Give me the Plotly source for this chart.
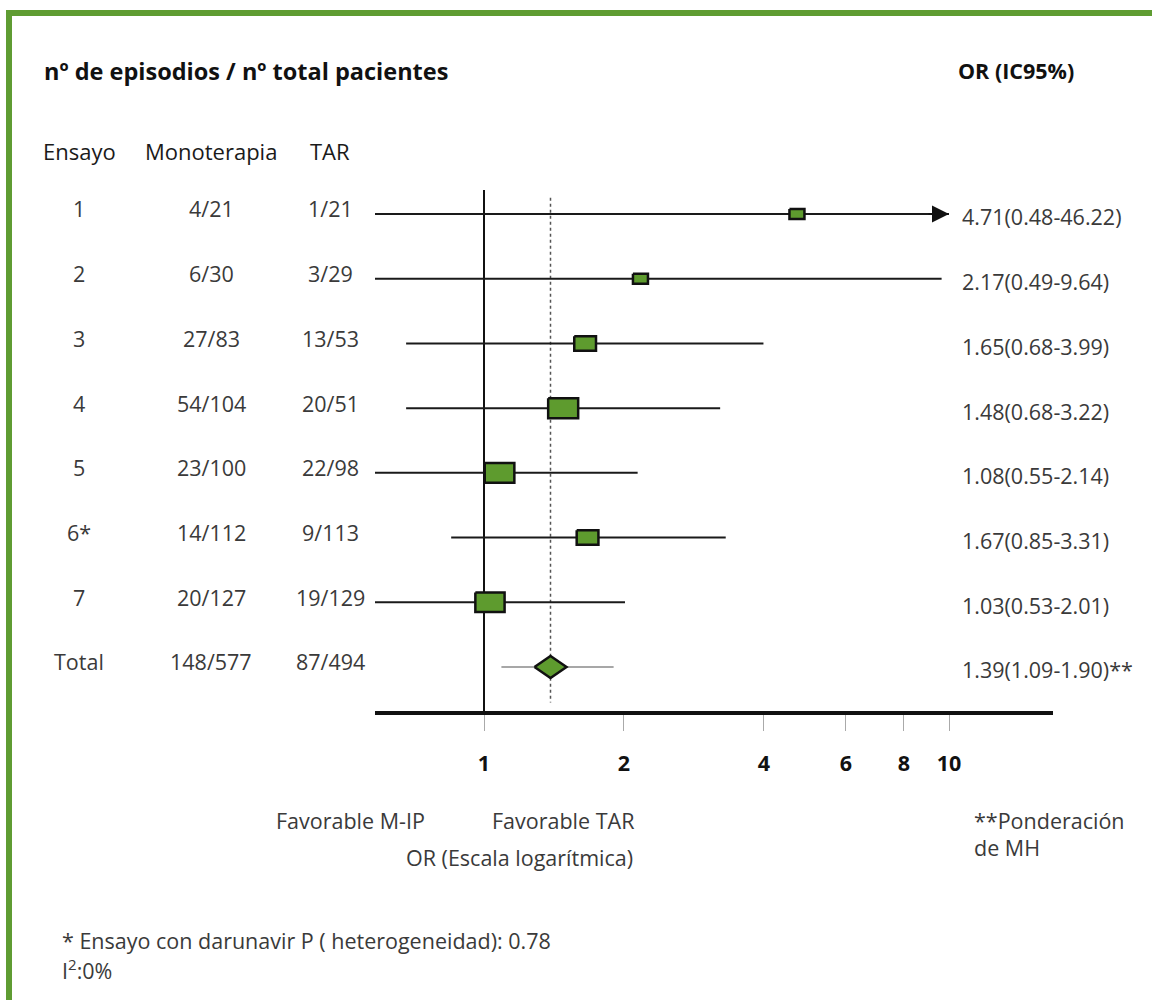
import math
import plotly.graph_objects as go

# ---------------- data ----------------
ensayos = ["1", "2", "3", "4", "5", "6*", "7", "Total"]
monoterapia = ["4/21", "6/30", "27/83", "54/104", "23/100", "14/112", "20/127", "148/577"]
tar = ["1/21", "3/29", "13/53", "20/51", "22/98", "9/113", "19/129", "87/494"]
or_est = [4.71, 2.17, 1.65, 1.48, 1.08, 1.67, 1.03]
ci_low = [0.48, 0.49, 0.68, 0.68, 0.55, 0.85, 0.53]
ci_high = [46.22, 9.64, 3.99, 3.22, 2.14, 3.31, 2.01]
weights = [1.0, 1.0, 2.1, 4.0, 3.9, 2.1, 3.8]   # relative study weights (box area)
total_or = 1.39
total_low = 1.09
total_high = 1.90
or_labels = ["4.71(0.48-46.22)", "2.17(0.49-9.64)", "1.65(0.68-3.99)", "1.48(0.68-3.22)",
             "1.08(0.55-2.14)", "1.67(0.85-3.31)", "1.03(0.53-2.01)", "1.39(1.09-1.90)**"]
tick_vals = [1, 2, 4, 6, 8, 10]
tick_text = ["1", "2", "4", "6", "8", "10"]

# ---------------- layout constants (pixels) ----------------
W, H = 1152, 1000
AX_L, AX_R = 375, 1053          # plot area horizontal extent
ONE_PX = 484                     # where OR = 1 sits
PX_DEC = 465                     # pixels per decade
PLOT_TOP, PLOT_BOT = 190, 711
ROW0_PX, ROW_PX = 214, 64.71

xr = [(AX_L - ONE_PX) / PX_DEC, (AX_R - ONE_PX) / PX_DEC]
yr = [(PLOT_BOT - ROW0_PX) / ROW_PX, (PLOT_TOP - ROW0_PX) / ROW_PX]

FONT = "Open Sans"
TXT = "#3a3a3a"
GREEN = "#5e9b2e"
FRAME = "#5f9c32"
BODY = 21.5

def px(x):
    return x / W

def py(y):
    return 1 - y / H

fig = go.Figure()

# reference lines
fig.add_trace(go.Scatter(x=[1, 1], y=[-2, 10], mode="lines",
                         line=dict(color="#111", width=2), hoverinfo="skip"))
fig.add_trace(go.Scatter(x=[total_or, total_or], y=[-0.25, 7.55], mode="lines",
                         line=dict(color="#555", width=1.5, dash="dot"), hoverinfo="skip"))

xcap = max(tick_vals)
# confidence intervals
for i in range(len(or_est)):
    hi = min(ci_high[i], xcap)
    fig.add_trace(go.Scatter(x=[ci_low[i], hi], y=[i, i], mode="lines",
                             line=dict(color="#1a1a1a", width=2), hoverinfo="skip"))
    if ci_high[i] > xcap:
        fig.add_annotation(x=math.log10(xcap), y=i, xref="x", yref="y", ax=-22, ay=0,
                           text="", showarrow=True, arrowhead=2, arrowsize=1.7,
                           arrowwidth=2, arrowcolor="#111")
# total CI
fig.add_trace(go.Scatter(x=[total_low, total_high], y=[7, 7], mode="lines",
                         line=dict(color="#8a8a8a", width=1.5), hoverinfo="skip"))

# boxes (area proportional to weight)
for i in range(len(or_est)):
    s = math.sqrt(weights[i])
    hw, hh = 7.5 * s, 5.0 * s
    f = 10 ** (hw / PX_DEC)
    dy = hh / ROW_PX
    l, r = or_est[i] / f, or_est[i] * f
    fig.add_trace(go.Scatter(x=[l, r, r, l, l], y=[i - dy, i - dy, i + dy, i + dy, i - dy],
                             mode="lines", fill="toself", fillcolor=GREEN,
                             line=dict(color="#111", width=2.5), hoverinfo="skip"))

# diamond for pooled estimate
f = 10 ** (16 / PX_DEC)
dy = 11 / ROW_PX
fig.add_trace(go.Scatter(x=[total_or / f, total_or, total_or * f, total_or, total_or / f],
                         y=[7, 7 - dy, 7, 7 + dy, 7], mode="lines", fill="toself",
                         fillcolor=GREEN, line=dict(color="#111", width=2.5), hoverinfo="skip"))

ann = []
# headers
ann.append(dict(text="<b>nº de episodios / nº total pacientes</b>", x=px(42), y=py(71),
                xanchor="left", font=dict(size=23.5, color="#111")))
ann.append(dict(text="<b>OR (IC95%)</b>", x=px(956), y=py(71), xanchor="left",
                font=dict(size=21.5, color="#111")))
for t, cx in (("Ensayo", 79), ("Monoterapia", 211), ("TAR", 330)):
    ann.append(dict(text=t, x=px(cx), y=py(151), xanchor="center",
                    font=dict(size=22, color="#1a1a1a")))
# table rows
for i in range(len(ensayos)):
    for t, cx in ((ensayos[i], 79), (monoterapia[i], 211), (tar[i], 330)):
        ann.append(dict(text=t, x=px(cx), y=i, yref="y", xanchor="center", yshift=5,
                        font=dict(size=BODY, color=TXT)))
    ann.append(dict(text=or_labels[i], x=px(960), y=i, yref="y", xanchor="left", yshift=-3,
                    font=dict(size=BODY, color=TXT)))
# bottom labels
ann.append(dict(text="Favorable M-IP", x=px(427), y=py(820), xanchor="right",
                font=dict(size=BODY, color=TXT)))
ann.append(dict(text="Favorable TAR", x=px(490), y=py(820), xanchor="left",
                font=dict(size=BODY, color=TXT)))
ann.append(dict(text="OR (Escala logarítmica)", x=px(519), y=py(857), xanchor="center",
                font=dict(size=BODY, color=TXT)))
ann.append(dict(text="**Ponderación", x=px(972), y=py(820), xanchor="left",
                font=dict(size=BODY, color=TXT)))
ann.append(dict(text="de MH", x=px(972), y=py(847), xanchor="left",
                font=dict(size=BODY, color=TXT)))
ann.append(dict(text="* Ensayo con darunavir P ( heterogeneidad): 0.78",
                x=px(60), y=py(940), xanchor="left", font=dict(size=BODY, color=TXT)))
ann.append(dict(text="I<sup>2</sup>:0%",
                x=px(60), y=py(969), xanchor="left", font=dict(size=BODY, color=TXT)))

for a in ann:
    a.setdefault("xref", "paper")
    a.setdefault("yref", "paper")
    a.setdefault("yanchor", "middle")
    a["showarrow"] = False
    fig.add_annotation(**a)

# frame
fig.add_shape(type="rect", xref="paper", yref="paper", x0=px(9), x1=1.2, y0=-0.2, y1=py(13),
              line=dict(color=FRAME, width=6), fillcolor="rgba(0,0,0,0)", layer="below")

fig.update_layout(
    width=W, height=H, margin=dict(l=0, r=0, t=0, b=0),
    paper_bgcolor="white", plot_bgcolor="white", showlegend=False, hovermode=False,
    font=dict(family=FONT, color=TXT),
    xaxis=dict(type="log", range=xr, domain=[px(AX_L), px(AX_R)],
               tickvals=tick_vals, ticktext=tick_text,
               tickfont=dict(family=FONT, size=21.5, color="#111", weight="bold"),
               showline=True, linewidth=4, linecolor="#111",
               ticks="outside", ticklen=16, tickwidth=1, tickcolor="#aaa",
               ticklabelstandoff=14, showgrid=False, zeroline=False, fixedrange=True),
    yaxis=dict(range=yr, domain=[py(PLOT_BOT), py(PLOT_TOP)], visible=False,
               showgrid=False, zeroline=False, fixedrange=True),
)

fig.write_html("out.html", config={"displayModeBar": False},
               post_script="document.body.style.margin='0';")
